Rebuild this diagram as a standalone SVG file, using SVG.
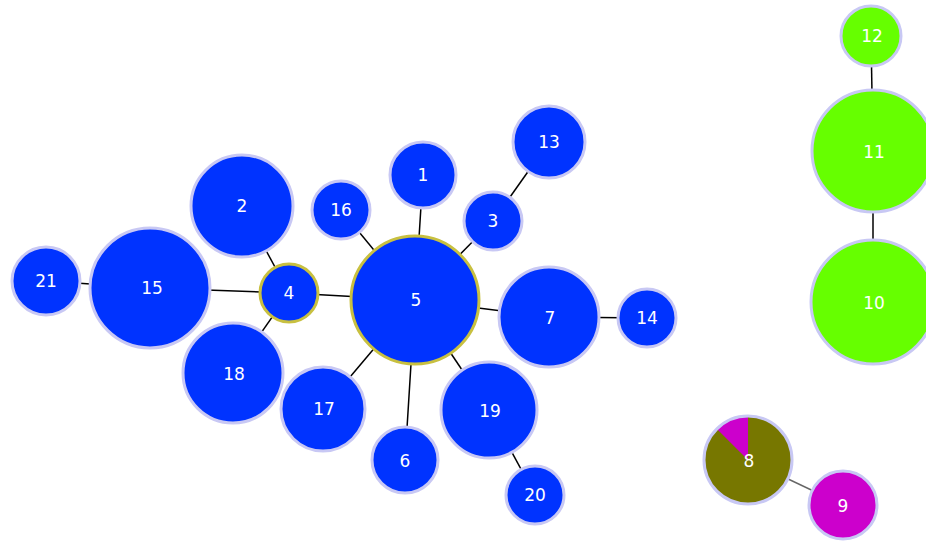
<svg xmlns="http://www.w3.org/2000/svg" width="926" height="543" viewBox="0 0 926 543">
<style>
.e{stroke:#000;stroke-width:1.5}
.n{stroke:#c8c8f4;stroke-width:3}
.b{fill:#0033ff}
.g{fill:#66ff00}
.m{fill:#cc00cc}
.h{stroke:#c8c040;stroke-width:3}
text{font-family:"DejaVu Sans",Verdana,sans-serif;font-size:17px;fill:#fff;text-anchor:middle;dominant-baseline:central}
</style>
<rect width="926" height="543" fill="#fff"/>
<g id="edges">
<line class="e" x1="415" y1="300" x2="423" y2="175"/>
<line class="e" x1="415" y1="300" x2="493" y2="221"/>
<line class="e" x1="493" y1="221" x2="549" y2="142"/>
<line class="e" x1="415" y1="300" x2="341" y2="210"/>
<line class="e" x1="415" y1="300" x2="289" y2="293"/>
<line class="e" x1="289" y1="293" x2="242" y2="206"/>
<line class="e" x1="289" y1="293" x2="150" y2="288"/>
<line class="e" x1="289" y1="293" x2="233" y2="373"/>
<line class="e" x1="150" y1="288" x2="46" y2="281"/>
<line class="e" x1="415" y1="300" x2="323" y2="409"/>
<line class="e" x1="415" y1="300" x2="405" y2="460"/>
<line class="e" x1="415" y1="300" x2="489" y2="410"/>
<line class="e" x1="489" y1="410" x2="535" y2="495"/>
<line class="e" x1="415" y1="300" x2="549" y2="317"/>
<line class="e" x1="549" y1="317" x2="647" y2="318"/>
<line class="e" x1="871" y1="36" x2="873" y2="151"/>
<line class="e" x1="873" y1="151" x2="873" y2="302"/>
<line x1="748" y1="460" x2="843" y2="505" stroke="#666" stroke-width="1.5"/>
</g>
<g id="n1"><circle class="n b" cx="423" cy="175" r="33"/><text x="423" y="175">1</text></g>
<g id="n13"><circle class="n b" cx="549" cy="142" r="36"/><text x="549" y="142">13</text></g>
<g id="n3"><circle class="n b" cx="493" cy="221" r="29"/><text x="493" y="221">3</text></g>
<g id="n16"><circle class="n b" cx="341" cy="210" r="29"/><text x="341" y="210">16</text></g>
<g id="n2"><circle class="n b" cx="242" cy="206" r="51"/><text x="242" y="206">2</text></g>
<g id="n15"><circle class="n b" cx="150" cy="288" r="60"/><text x="152" y="288">15</text></g>
<g id="n21"><circle class="n b" cx="46" cy="281" r="34"/><text x="46" y="281">21</text></g>
<g id="n18"><circle class="n b" cx="233" cy="373" r="50"/><text x="234" y="374">18</text></g>
<g id="n17"><circle class="n b" cx="323" cy="409" r="42"/><text x="324" y="409">17</text></g>
<g id="n6"><circle class="n b" cx="405" cy="460" r="33"/><text x="405" y="461">6</text></g>
<g id="n19"><circle class="n b" cx="489" cy="410" r="48"/><text x="490" y="411">19</text></g>
<g id="n20"><circle class="n b" cx="535" cy="495" r="29"/><text x="535" y="495">20</text></g>
<g id="n7"><circle class="n b" cx="549" cy="317" r="50"/><text x="550" y="318">7</text></g>
<g id="n14"><circle class="n b" cx="647" cy="318" r="29"/><text x="647" y="318">14</text></g>
<g id="n4"><circle class="h b" cx="289" cy="293" r="29"/><text x="289" y="293">4</text></g>
<g id="n5"><circle class="h b" cx="415" cy="300" r="64"/><text x="416" y="300">5</text></g>
<g id="n12"><circle class="n g" cx="871" cy="36" r="30"/><text x="872" y="36">12</text></g>
<g id="n11"><circle class="n g" cx="873" cy="151" r="61"/><text x="874" y="152">11</text></g>
<g id="n10"><circle class="n g" cx="873" cy="302" r="62"/><text x="874" y="303">10</text></g>
<g id="n8"><circle cx="748" cy="460" r="44" fill="#777700"/><path d="M748 460 L748 416 A44 44 0 0 0 716.9 428.9 Z" fill="#cc00cc"/><circle class="n" cx="748" cy="460" r="44" fill="none"/><text x="749" y="461">8</text></g>
<g id="n9"><circle class="n m" cx="843" cy="505" r="34"/><text x="843" y="506">9</text></g>
</svg>
